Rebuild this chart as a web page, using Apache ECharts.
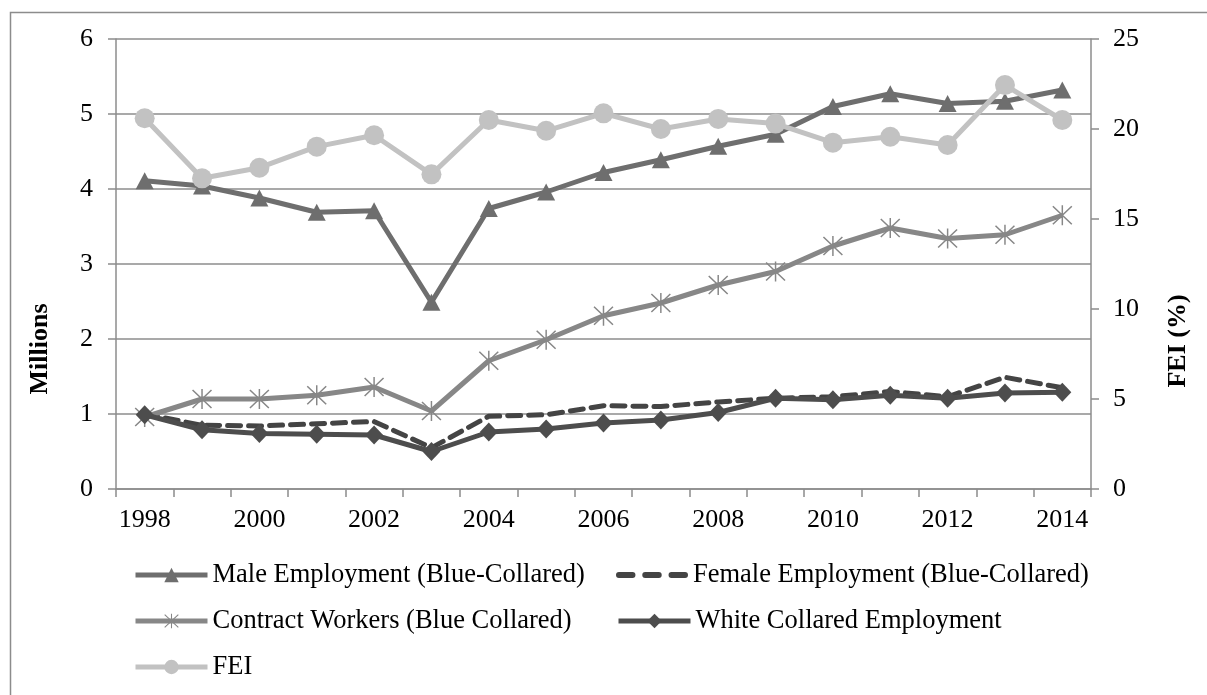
<!DOCTYPE html>
<html>
<head>
<meta charset="utf-8">
<title>Employment and FEI, 1998-2014</title>
<script src="https://cdn.jsdelivr.net/npm/echarts@6/dist/echarts.min.js"></script>
<style>
  html, body { margin: 0; padding: 0; background: #ffffff; }
  #chart { width: 1207px; height: 695px; }
</style>
</head>
<body>
<div id="chart"></div>
<script>
// Years on the category axis
const years = ['1998', '1999', '2000', '2001', '2002', '2003', '2004', '2005', '2006',
  '2007', '2008', '2009', '2010', '2011', '2012', '2013', '2014'];

// Employment, millions (left axis)
const maleBlue = [4.11, 4.04, 3.88, 3.69, 3.71, 2.49, 3.74, 3.96, 4.22, 4.39, 4.57, 4.73, 5.10, 5.27, 5.14, 5.17, 5.32];
const femaleBlue = [1.00, 0.85, 0.84, 0.87, 0.90, 0.55, 0.97, 0.99, 1.11, 1.10, 1.16, 1.21, 1.23, 1.30, 1.23, 1.49, 1.35];
const contractBlue = [0.96, 1.20, 1.20, 1.25, 1.36, 1.04, 1.71, 1.99, 2.31, 2.48, 2.72, 2.90, 3.24, 3.48, 3.34, 3.39, 3.65];
const whiteCollar = [0.99, 0.79, 0.74, 0.73, 0.72, 0.50, 0.76, 0.80, 0.88, 0.92, 1.02, 1.21, 1.19, 1.25, 1.21, 1.28, 1.29];

// FEI, percent (right axis)
const fei = [20.6, 17.26, 17.85, 19.02, 19.65, 17.48, 20.5, 19.9, 20.87, 20.0, 20.56, 20.3, 19.24, 19.57, 19.11, 22.44, 20.5];

// Series names
const names = [
  'Male Employment (Blue-Collared)',
  'Female Employment (Blue-Collared)',
  'Contract Workers (Blue Collared)',
  'White Collared Employment',
  'FEI'
];

const FONT = '"Liberation Serif", "Times New Roman", serif';
const AXIS_GRAY = '#8c8c8c';
const TICK_FONT = 26;
const LEGEND_FONT = 26.5;

// Six-armed asterisk marker (vertical bar plus two diagonals)
const asterisk = 'path://M9.3 0 L10.7 0 L10.7 20 L9.3 20 Z ' +
  'M1.5 0.5 L19.5 18.5 L18.5 19.5 L0.5 1.5 Z ' +
  'M18.5 0.5 L19.5 1.5 L1.5 19.5 L0.5 18.5 Z';

// Legend key for the dashed series: three short rounded dashes
const dashKey = 'path://M3 0 H17 A3 3 0 0 1 17 6 H3 A3 3 0 0 1 3 0 Z ' +
  'M30 0 H44 A3 3 0 0 1 44 6 H30 A3 3 0 0 1 30 0 Z ' +
  'M57 0 H71 A3 3 0 0 1 71 6 H57 A3 3 0 0 1 57 0 Z';

const chart = echarts.init(document.getElementById('chart'), null, { renderer: 'canvas' });

// One legend block per entry, laid out as a two-column key under the plot
function legendAt(item, left, centerY, h) {
  return {
    data: [item],
    left: left,
    top: centerY - 14,
    height: 28,
    orient: 'horizontal',
    itemWidth: 72,
    itemHeight: h,
    padding: 0,
    selectedMode: false,
    lineStyle: { width: 5 },
    textStyle: { fontFamily: FONT, fontSize: LEGEND_FONT, color: '#000000', lineHeight: 28 }
  };
}

const option = {
  animation: false,
  backgroundColor: '#ffffff',
  textStyle: { fontFamily: FONT },
  graphic: [{
    type: 'rect',
    left: 8,
    top: 10,
    shape: { width: 1400, height: 900 },
    style: { fill: 'none', stroke: AXIS_GRAY, lineWidth: 1.5 },
    silent: true,
    z: -1
  }],
  grid: { left: 116, right: 116, top: 39, bottom: 206, containLabel: false },
  legend: [
    legendAt(names[0], 133, 575, 18),
    legendAt({ name: names[1], icon: dashKey, itemStyle: { color: '#444444' } }, 616, 575, 6),
    legendAt(names[2], 133, 621, 18),
    legendAt(names[3], 616, 621, 18),
    legendAt(names[4], 133, 667, 18)
  ],
  xAxis: {
    type: 'category',
    data: years,
    boundaryGap: true,
    axisLine: { show: true, lineStyle: { color: AXIS_GRAY, width: 1.5 } },
    axisTick: { show: true, interval: 0, length: 8, lineStyle: { color: AXIS_GRAY, width: 1.5 } },
    axisLabel: {
      interval: 1,
      margin: 18,
      fontFamily: FONT,
      fontSize: TICK_FONT,
      color: '#000000'
    },
    splitLine: { show: false }
  },
  yAxis: [{
    type: 'value',
    position: 'left',
    min: 0,
    max: 6,
    interval: 1,
    name: 'Millions',
    nameLocation: 'middle',
    nameRotate: 90,
    nameGap: 63,
    nameTextStyle: {
      fontFamily: FONT, fontSize: 26, fontWeight: 'bold', color: '#000000',
      padding: [0, 170, 0, 0]
    },
    axisLine: { show: true, lineStyle: { color: AXIS_GRAY, width: 1.5 } },
    axisTick: { show: true, inside: false, length: 8, lineStyle: { color: AXIS_GRAY, width: 1.5 } },
    axisLabel: { margin: 23, fontFamily: FONT, fontSize: TICK_FONT, color: '#000000' },
    splitLine: { show: true, lineStyle: { color: AXIS_GRAY, width: 1.5 } }
  }, {
    type: 'value',
    position: 'right',
    min: 0,
    max: 25,
    interval: 5,
    name: 'FEI (%)',
    nameLocation: 'middle',
    nameRotate: 90,
    nameGap: 74,
    nameTextStyle: {
      fontFamily: FONT, fontSize: 26, fontWeight: 'bold', color: '#000000',
      padding: [0, 154, 0, 0]
    },
    axisLine: { show: true, lineStyle: { color: AXIS_GRAY, width: 1.5 } },
    axisTick: { show: true, inside: false, length: 8, lineStyle: { color: AXIS_GRAY, width: 1.5 } },
    axisLabel: { margin: 22, fontFamily: FONT, fontSize: TICK_FONT, color: '#000000' },
    splitLine: { show: false }
  }],
  series: [{
    name: names[0],
    type: 'line',
    yAxisIndex: 0,
    data: maleBlue,
    symbol: 'triangle',
    symbolSize: [18, 17],
    lineStyle: { color: '#6e6e6e', width: 5 },
    itemStyle: { color: '#6e6e6e' },
    z: 2
  }, {
    name: names[1],
    type: 'line',
    yAxisIndex: 0,
    data: femaleBlue,
    symbol: 'none',
    lineStyle: { color: '#444444', width: 5, type: [13, 8], cap: 'round' },
    itemStyle: { color: '#444444' },
    z: 3
  }, {
    name: names[2],
    type: 'line',
    yAxisIndex: 0,
    data: contractBlue,
    symbol: asterisk,
    symbolSize: 20,
    lineStyle: { color: '#878787', width: 5 },
    itemStyle: { color: '#878787' },
    z: 4
  }, {
    name: names[3],
    type: 'line',
    yAxisIndex: 0,
    data: whiteCollar,
    symbol: 'diamond',
    symbolSize: [18, 19],
    lineStyle: { color: '#4d4d4d', width: 5 },
    itemStyle: { color: '#4d4d4d' },
    z: 5
  }, {
    name: names[4],
    type: 'line',
    yAxisIndex: 1,
    data: fei,
    symbol: 'circle',
    symbolSize: 20,
    lineStyle: { color: '#c2c2c2', width: 5 },
    itemStyle: { color: '#c2c2c2' },
    z: 6
  }]
};

chart.setOption(option);
</script>
</body>
</html>
